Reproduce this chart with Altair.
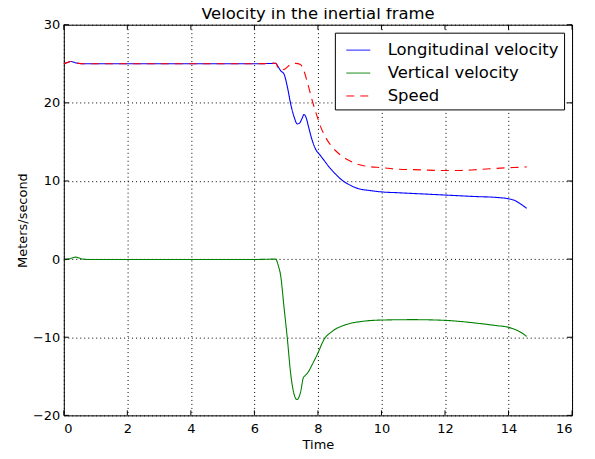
import altair as alt
import pandas as pd

# ---- data ----
title_text = "Velocity in the inertial frame"
series_names = ["Longitudinal velocity", "Vertical velocity", "Speed"]
series_colors = ["#0000ff", "#008000", "#ff0000"]
series_dashes = [[1, 0], [1, 0], [8, 6]]

lon_t = [0, 0.1, 0.22, 0.4, 0.65, 2, 4, 6, 6.67, 6.75, 6.83, 6.93, 7.04, 7.14, 7.25, 7.35,
         7.42, 7.5, 7.56, 7.62, 7.7, 7.82, 7.95, 8.05, 8.2, 8.35, 8.55, 8.76, 9.0, 9.29, 9.6,
         10.0, 10.5, 11.0, 12.0, 13.0, 13.6, 14.0, 14.2, 14.4, 14.57]
lon_v = [25.0, 25.15, 25.3, 25.1, 25.0, 25.0, 25.0, 25.0, 25.05, 24.6, 24.1, 23.7, 22.0, 19.9,
         18.2, 17.3, 17.4, 18.0, 18.5, 18.2, 17.0, 15.2, 13.9, 13.4, 12.6, 11.8, 10.9, 10.1,
         9.5, 9.0, 8.8, 8.6, 8.5, 8.4, 8.2, 8.0, 7.9, 7.72, 7.5, 7.0, 6.5]

vert_t = [0, 0.15, 0.38, 0.58, 0.8, 2, 4, 6, 6.67, 6.75, 6.83, 6.93, 7.04, 7.14, 7.25, 7.31,
          7.35, 7.4, 7.46, 7.54, 7.6, 7.67, 7.82, 7.98, 8.19, 8.45, 8.87, 9.39, 10.0, 11.0,
          12.0, 13.0, 13.6, 14.0, 14.2, 14.4, 14.57]
vert_v = [-0.1, 0.0, 0.25, 0.02, -0.05, -0.05, -0.05, -0.05, 0.0, -0.8, -2.2, -6.06, -10.3,
          -14.6, -17.3, -17.9, -17.96, -17.7, -16.9, -15.2, -14.9, -14.6, -13.5, -12.2,
          -10.3, -9.25, -8.4, -7.97, -7.8, -7.75, -7.84, -8.2, -8.5, -8.73, -9.0, -9.4, -9.9]

spd_t = [0, 0.1, 0.22, 0.4, 0.65, 2, 4, 6, 6.67, 6.75, 6.83, 6.95, 7.1, 7.3, 7.45, 7.55, 7.67,
         7.82, 7.98, 8.1, 8.24, 8.4, 8.55, 8.75, 8.97, 9.2, 9.5, 10.02, 10.54, 11.0, 12.0,
         12.5, 13.0, 14.0, 14.41, 14.57]
spd_v = [25.0, 25.15, 25.3, 25.1, 25.0, 25.0, 25.0, 25.0, 25.05, 24.5, 24.2, 24.3, 24.8, 25.05,
         24.9, 24.2, 22.6, 20.3, 18.2, 16.8, 15.6, 14.6, 13.9, 13.2, 12.65, 12.2, 11.9, 11.7,
         11.5, 11.45, 11.34, 11.35, 11.45, 11.7, 11.76, 11.8]

x_ticks = [0, 2, 4, 6, 8, 10, 12, 14, 16]
y_ticks = [-20, -10, 0, 10, 20, 30]

# ---- build table ----
rows = []
for i, (name, ts, vs) in enumerate(zip(series_names, [lon_t, vert_t, spd_t], [lon_v, vert_v, spd_v])):
    for t, v in zip(ts, vs):
        rows.append({"series": name, "k": i, "t": t, "v": v})
df = pd.DataFrame(rows)

W, H = 510, 392
FONT = "DejaVu Sans"

xs = alt.Scale(domain=[0, 16], nice=False, zero=False)
ys = alt.Scale(domain=[-20, 30], nice=False, zero=False)

x_axis = alt.Axis(values=x_ticks, title="Time", grid=True, labelPadding=7,
                  titleX=W / 2, titleY=33, titleBaseline="alphabetic", titleAlign="center")
y_axis = alt.Axis(values=y_ticks, title="Meters/second", grid=True, labelPadding=4,
                  titleX=-37, titleY=H / 2, titleAngle=270, titleBaseline="alphabetic",
                  titleAlign="center")

legend = alt.Legend(
    title=None, orient="none", legendX=272, legendY=8,
    strokeColor="black", fillColor="white", padding=5, cornerRadius=0,
    labelFont=FONT, labelFontSize=16.5, labelColor="black", labelLimit=0,
    symbolType="stroke", symbolSize=576, symbolStrokeWidth=1,
    symbolOffset=6, labelOffset=17, rowPadding=2,
)

lines = alt.Chart(df).mark_line(strokeWidth=1.1, interpolate="monotone").encode(
    x=alt.X("t:Q", scale=xs, axis=x_axis),
    y=alt.Y("v:Q", scale=ys, axis=y_axis),
    color=alt.Color("series:N", scale=alt.Scale(domain=series_names, range=series_colors), legend=legend),
    strokeDash=alt.StrokeDash("series:N", scale=alt.Scale(domain=series_names, range=series_dashes), legend=legend),
    detail="k:N",
)

xt = pd.DataFrame({"t": x_ticks})
yt = pd.DataFrame({"v": y_ticks})
tick_len = 5
bottom_ticks = alt.Chart(xt).mark_rule(color="black", strokeWidth=1).encode(
    x=alt.X("t:Q", scale=xs, axis=x_axis), y=alt.value(H), y2=alt.value(H - tick_len))
top_ticks = alt.Chart(xt).mark_rule(color="black", strokeWidth=1).encode(
    x=alt.X("t:Q", scale=xs, axis=x_axis), y=alt.value(0), y2=alt.value(tick_len))
left_ticks = alt.Chart(yt).mark_rule(color="black", strokeWidth=1).encode(
    y=alt.Y("v:Q", scale=ys, axis=y_axis), x=alt.value(0), x2=alt.value(tick_len))
right_ticks = alt.Chart(yt).mark_rule(color="black", strokeWidth=1).encode(
    y=alt.Y("v:Q", scale=ys, axis=y_axis), x=alt.value(W), x2=alt.value(W - tick_len))

title_mark = alt.Chart(pd.DataFrame({"label": [title_text]})).mark_text(
    font=FONT, fontSize=16.5, color="black", align="center", baseline="alphabetic"
).encode(text="label:N", x=alt.value(W / 2), y=alt.value(-6))

chart = alt.layer(lines, bottom_ticks, top_ticks, left_ticks, right_ticks, title_mark).properties(
    width=W, height=H,
    background="white",
    autosize=alt.AutoSizeParams(type="none"),
    padding={"left": 56, "top": 16, "right": 15, "bottom": 40},
).configure_view(
    stroke="black", strokeWidth=1
).configure_axis(
    domain=False, ticks=False, tickSize=0,
    labelFont=FONT, labelFontSize=13, labelColor="black",
    titleFont=FONT, titleFontSize=13, titleColor="black", titleFontWeight="normal",
    gridColor="black", gridDash=[1, 3], gridOpacity=1, gridWidth=1,
)

chart.save("out.html", embed_options={"renderer": "svg", "actions": False})
